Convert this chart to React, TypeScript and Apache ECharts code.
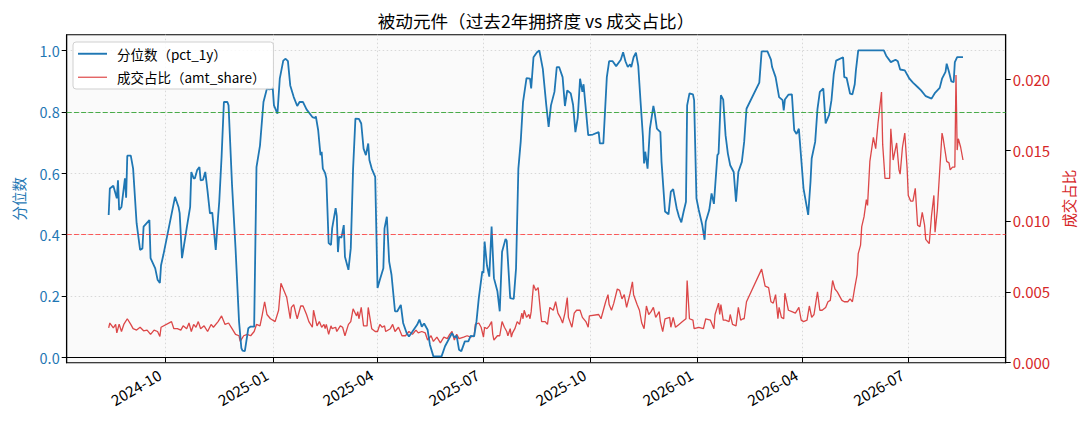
import React, { useEffect, useRef } from "react";
import * as echarts from "echarts";

const chartTitle = "被动元件（过去2年拥挤度 vs 成交占比）";
const pctName = "分位数（pct_1y）";
const amtName = "成交占比（amt_share）";
const leftAxisName = "分位数";
const rightAxisName = "成交占比";
const startDate = "2024-08-13";

const pctDays = [
  0, 1, 4, 7, 8, 9, 11, 14, 15, 16, 19, 21, 24, 27, 29, 30, 35, 36, 40, 42, 44, 45, 47, 57, 60, 61, 63, 67, 70, 71,
  73, 74, 76, 78, 79, 81, 83, 85, 87, 89, 92, 94, 95, 97, 99, 102, 103, 106, 109, 112, 114, 115, 117, 120, 122, 125,
  127, 130, 133, 136, 138, 141, 142, 145, 147, 150, 152, 154, 156, 159, 162, 164, 167, 170, 175, 177, 178, 180, 182,
  183, 184, 186, 187, 189, 191, 192, 195, 196, 197, 198, 200, 202, 203, 206, 208, 210, 212, 215, 217, 219, 221, 223,
  224, 226, 229, 231, 233, 236, 237, 239, 241, 243, 246, 248, 251, 253, 256, 258, 261, 265, 267, 269, 271, 274, 276,
  279, 286, 289, 295, 297, 299, 301, 303, 306, 309, 311, 314, 316, 318, 321, 322, 323, 325, 327, 329, 331, 334, 336,
  338, 341, 342, 345, 348, 350, 352, 354, 356, 359, 362, 363, 365, 368, 370, 373, 376, 378, 380, 383, 385, 387, 390,
  392, 394, 397, 399, 401, 403, 405, 407, 408, 412, 416, 421, 422, 425, 428, 430, 433, 436, 440, 442, 444, 446, 448,
  449, 451, 453, 455, 457, 459, 460, 461, 463, 465, 468, 469, 471, 474, 475, 478, 481, 483, 485, 488, 490, 492, 494,
  496, 497, 499, 502, 503, 505, 507, 510, 512, 513, 516, 518, 520, 523, 524, 526, 528, 530, 532, 534, 537, 539, 541,
  544, 546, 548, 559, 561, 566, 569, 570, 573, 576, 579, 580, 581, 584, 587, 589, 591, 593, 597, 601, 603, 604, 607,
  609, 611, 614, 616, 619, 621, 623, 625, 631, 632, 634, 637, 639, 641, 642, 644, 666, 668, 672, 676, 678, 680, 684,
  688, 691, 695, 698, 702, 707, 710, 714, 716, 719, 720, 722, 724, 726, 727, 729, 734,
];
const pctValues = [
  0.464, 0.55, 0.559, 0.518, 0.577, 0.48, 0.49, 0.583, 0.52, 0.657, 0.657, 0.615, 0.437, 0.35, 0.355, 0.426, 0.447,
  0.323, 0.29, 0.253, 0.242, 0.3, 0.334, 0.523, 0.49, 0.47, 0.323, 0.42, 0.49, 0.604, 0.583, 0.583, 0.61, 0.62, 0.577,
  0.578, 0.604, 0.54, 0.469, 0.472, 0.35, 0.458, 0.507, 0.653, 0.832, 0.832, 0.821, 0.561, 0.355, 0.117, 0.03, 0.022,
  0.02, 0.095, 0.1, 0.1, 0.62, 0.69, 0.832, 0.876, 0.873, 0.876, 0.821, 0.794, 0.908, 0.967, 0.973, 0.965, 0.886,
  0.848, 0.819, 0.832, 0.832, 0.808, 0.783, 0.78, 0.785, 0.74, 0.659, 0.67, 0.615, 0.6, 0.583, 0.372, 0.366, 0.42,
  0.486, 0.46, 0.343, 0.393, 0.39, 0.431, 0.328, 0.285, 0.355, 0.615, 0.778, 0.777, 0.762, 0.68, 0.659, 0.697, 0.643,
  0.615, 0.588, 0.226, 0.253, 0.29, 0.42, 0.458, 0.312, 0.269, 0.15, 0.15, 0.171, 0.112, 0.079, 0.068, 0.084, 0.106,
  0.123, 0.1, 0.11, 0.09, 0.041, 0.003, 0.003, 0.036, 0.079, 0.065, 0.07, 0.025, 0.02, 0.052, 0.052, 0.07, 0.068,
  0.117, 0.193, 0.28, 0.275, 0.377, 0.3, 0.263, 0.426, 0.258, 0.215, 0.15, 0.344, 0.386, 0.38, 0.193, 0.19, 0.29,
  0.615, 0.702, 0.832, 0.91, 0.908, 0.876, 0.978, 0.994, 1.0, 0.94, 0.821, 0.751, 0.821, 0.865, 0.946, 0.946, 0.913,
  0.819, 0.87, 0.86, 0.823, 0.734, 0.78, 0.908, 0.865, 0.89, 0.724, 0.726, 0.734, 0.697, 0.697, 0.913, 0.965, 0.965,
  0.949, 0.97, 0.994, 0.965, 0.946, 0.955, 0.946, 0.978, 0.993, 0.95, 0.832, 0.72, 0.632, 0.67, 0.615, 0.745, 0.819,
  0.8, 0.745, 0.734, 0.637, 0.475, 0.466, 0.54, 0.548, 0.486, 0.458, 0.44, 0.475, 0.507, 0.821, 0.86, 0.857, 0.838,
  0.518, 0.48, 0.431, 0.383, 0.442, 0.48, 0.534, 0.5, 0.659, 0.664, 0.854, 0.84, 0.724, 0.664, 0.626, 0.604, 0.507,
  0.604, 0.637, 0.702, 0.81, 0.895, 0.997, 0.997, 0.97, 0.946, 0.913, 0.848, 0.838, 0.805, 0.84, 0.856, 0.857, 0.74,
  0.728, 0.745, 0.55, 0.464, 0.572, 0.648, 0.702, 0.81, 0.865, 0.876, 0.762, 0.79, 0.838, 0.924, 0.967, 0.978, 0.913,
  0.911, 0.859, 0.857, 0.89, 0.935, 1.0, 1.0, 0.983, 0.962, 0.97, 0.965, 0.938, 0.935, 0.908, 0.895, 0.881, 0.87,
  0.851, 0.843, 0.862, 0.878, 0.908, 0.93, 0.957, 0.93, 0.899, 0.897, 0.962, 0.978, 0.978,
];

const amtDays = [
  0, 1, 4, 6, 7, 9, 11, 13, 16, 19, 21, 24, 27, 30, 33, 36, 39, 42, 44, 45, 54, 56, 59, 62, 64, 67, 69, 71, 73, 75,
  77, 79, 82, 85, 88, 90, 94, 97, 100, 103, 106, 109, 112, 113, 116, 119, 122, 125, 127, 130, 132, 134, 136, 139, 143,
  146, 148, 151, 153, 156, 157, 159, 161, 162, 165, 167, 170, 172, 175, 176, 179, 181, 183, 185, 186, 187, 189, 191,
  192, 195, 196, 199, 201, 203, 206, 208, 210, 213, 214, 215, 217, 219, 222, 223, 226, 229, 231, 233, 235, 237, 238,
  242, 244, 246, 249, 252, 255, 258, 261, 264, 266, 269, 272, 274, 277, 279, 282, 285, 288, 291, 293, 295, 297, 299,
  301, 305, 308, 311, 314, 315, 318, 320, 322, 323, 325, 327, 329, 330, 331, 334, 336, 338, 340, 342, 343, 345, 346,
  347, 349, 351, 353, 355, 356, 357, 359, 361, 362, 363, 365, 367, 369, 371, 372, 375, 377, 379, 382, 384, 386, 388,
  390, 392, 394, 395, 398, 400, 402, 405, 407, 410, 412, 413, 421, 423, 427, 429, 430, 432, 434, 437, 439, 441, 443,
  445, 448, 450, 451, 454, 456, 458, 460, 462, 464, 466, 468, 470, 473, 474, 476, 478, 482, 483, 485, 487, 490, 493,
  496, 497, 499, 502, 503, 507, 511, 513, 517, 520, 521, 524, 525, 526, 528, 530, 533, 534, 536, 539, 541, 543, 545,
  546, 548, 561, 564, 567, 569, 571, 573, 575, 576, 578, 580, 581, 584, 587, 590, 593, 595, 597, 600, 602, 604, 606,
  609, 611, 613, 616, 618, 620, 622, 624, 626, 630, 632, 635, 637, 639, 641, 643, 644, 646, 647, 649, 651, 652, 654,
  657, 659, 661, 664, 665, 667, 671, 672, 674, 677, 679, 680, 682, 684, 686, 687, 689, 691, 693, 695, 697, 699, 701,
  702, 705, 707, 709, 710, 712, 713, 716, 717, 720, 722, 723, 725, 727, 728, 729, 730, 732, 734,
];
const amtValues = [
  0.00246, 0.0028, 0.00246, 0.0027, 0.0021, 0.00272, 0.0022, 0.0027, 0.0031, 0.0027, 0.0024, 0.0023, 0.0025, 0.00225,
  0.0023, 0.002, 0.0023, 0.0022, 0.00185, 0.0025, 0.0029, 0.0024, 0.0024, 0.0023, 0.0026, 0.0024, 0.0028, 0.0022,
  0.0027, 0.0025, 0.0029, 0.0024, 0.0026, 0.0022, 0.0027, 0.0025, 0.0029, 0.0033, 0.0027, 0.0028, 0.0024, 0.002,
  0.0019, 0.0015, 0.0019, 0.002, 0.0019, 0.0022, 0.0027, 0.0026, 0.0034, 0.0043, 0.0034, 0.0031, 0.0029, 0.0037,
  0.0056, 0.005, 0.0046, 0.0031, 0.0039, 0.0041, 0.0034, 0.0031, 0.004, 0.004, 0.0034, 0.0029, 0.0025, 0.0037, 0.0026,
  0.0029, 0.0025, 0.0027, 0.0024, 0.0027, 0.002, 0.0026, 0.0024, 0.0025, 0.0022, 0.0026, 0.0025, 0.0019, 0.0027,
  0.0029, 0.0038, 0.0033, 0.0036, 0.0031, 0.0039, 0.0026, 0.0026, 0.0039, 0.0024, 0.0022, 0.0022, 0.0027, 0.0025,
  0.0026, 0.0022, 0.0024, 0.0027, 0.0022, 0.0025, 0.0019, 0.0019, 0.0022, 0.002, 0.0023, 0.0021, 0.0022, 0.0021,
  0.0016, 0.0019, 0.0015, 0.0018, 0.0014, 0.0018, 0.0017, 0.002, 0.0022, 0.0016, 0.002, 0.0017, 0.0018, 0.0019,
  0.0018, 0.0019, 0.0027, 0.0028, 0.0025, 0.0018, 0.0025, 0.0024, 0.0026, 0.0029, 0.002, 0.0016, 0.0019, 0.0019,
  0.0029, 0.0025, 0.0022, 0.0019, 0.0024, 0.0018, 0.0021, 0.0024, 0.0029, 0.0027, 0.0035, 0.0031, 0.0037, 0.0032,
  0.0034, 0.0031, 0.0036, 0.0055, 0.0051, 0.0053, 0.0036, 0.0029, 0.0029, 0.0027, 0.0039, 0.0037, 0.0043, 0.0035,
  0.0032, 0.0028, 0.0035, 0.0046, 0.0032, 0.0025, 0.0035, 0.0037, 0.0037, 0.0032, 0.0029, 0.0025, 0.0033, 0.0034,
  0.0031, 0.0043, 0.0048, 0.0041, 0.0037, 0.0042, 0.0052, 0.0051, 0.0045, 0.0048, 0.0039, 0.0049, 0.0057, 0.0048,
  0.0041, 0.0037, 0.0028, 0.0024, 0.004, 0.0034, 0.0036, 0.0039, 0.0032, 0.0036, 0.0029, 0.0022, 0.0031, 0.0032,
  0.0025, 0.0032, 0.0025, 0.0027, 0.0029, 0.0031, 0.0058, 0.0031, 0.003, 0.0024, 0.0025, 0.0024, 0.0031, 0.003,
  0.0024, 0.0034, 0.0042, 0.0034, 0.0041, 0.003, 0.003, 0.0029, 0.0034, 0.0027, 0.0026, 0.0039, 0.003, 0.0031, 0.0031,
  0.0043, 0.0066, 0.0054, 0.0053, 0.0043, 0.0042, 0.0048, 0.0031, 0.0039, 0.0032, 0.0031, 0.0049, 0.0037, 0.0036,
  0.0035, 0.0039, 0.003, 0.0029, 0.003, 0.004, 0.0032, 0.0034, 0.005, 0.0037, 0.0037, 0.0039, 0.0043, 0.0044, 0.0058,
  0.0052, 0.005, 0.0044, 0.0043, 0.0043, 0.0045, 0.0043, 0.0053, 0.0062, 0.0077, 0.0083, 0.0096, 0.0103, 0.0115,
  0.0111, 0.0142, 0.0159, 0.0151, 0.0169, 0.0191, 0.0154, 0.013, 0.013, 0.0165, 0.0143, 0.0155, 0.0136, 0.0133,
  0.0152, 0.0162, 0.0137, 0.0118, 0.0114, 0.0114, 0.0123, 0.0097, 0.0096, 0.0106, 0.0097, 0.0087, 0.0084, 0.0104,
  0.0118, 0.0092, 0.0108, 0.0122, 0.0162, 0.0158, 0.0142, 0.0141, 0.0136, 0.0138, 0.0138, 0.0203, 0.015, 0.0158,
  0.0152, 0.0143,
];

const xTickLabels = ["2024-10", "2025-01", "2025-04", "2025-07", "2025-10", "2026-01", "2026-04", "2026-07"];
const leftTicks = [0, 0.2, 0.4, 0.6, 0.8, 1.0];
const rightTicks = [0, 0.005, 0.01, 0.015, 0.02];
const highLevel = 0.8;
const lowLevel = 0.4;

const DAY = 86400000;
const FONT = "'Noto Sans CJK SC', 'Noto Sans', sans-serif";

function dayToTime(d: number): number {
  const [y, m, dd] = startDate.split("-").map(Number);
  return new Date(y, m - 1, dd + d).getTime();
}
function monthToTime(s: string): number {
  const [y, m] = s.split("-").map(Number);
  return new Date(y, m - 1, 1).getTime();
}
function fmtMonth(v: number): string {
  const d = new Date(v);
  return `${d.getFullYear()}-${String(d.getMonth() + 1).padStart(2, "0")}`;
}

export default function App() {
  const ref = useRef<HTMLDivElement>(null);
  useEffect(() => {
    if (!ref.current) return;
    const chart = echarts.init(ref.current, undefined, { renderer: "svg" });
    const xTicks = xTickLabels.map(monthToTime);
    const anchor = xTicks[0];
    const pctData = pctDays.map((d, i) => [dayToTime(d), pctValues[i]]);
    const amtData = amtDays.map((d, i) => [dayToTime(d), amtValues[i]]);
    const gridLine = { show: true, lineStyle: { color: "#d4d4d4", type: [1.5, 2.5], width: 0.9 } };
    chart.setOption({
      animation: false,
      backgroundColor: "#ffffff",
      textStyle: { fontFamily: FONT },
      title: {
        text: chartTitle,
        left: 531,
        top: 7,
        textAlign: "center",
        textStyle: { fontSize: 17.6, fontWeight: "normal", color: "#000", fontFamily: FONT },
      },
      legend: {
        left: 73,
        top: 42,
        orient: "vertical",
        itemWidth: 29,
        itemHeight: 14,
        itemGap: 10,
        padding: [5, 8, 5, 5],
        backgroundColor: "rgba(255,255,255,0.85)",
        borderColor: "#d0d0d0",
        borderWidth: 1,
        borderRadius: 3,
        textStyle: { fontSize: 13.5, color: "#000", fontFamily: FONT, padding: [0, 0, 0, 5] },
        data: [
          { name: pctName, icon: "path://M0,0H30V2H0Z" },
          { name: amtName, icon: "path://M0,0H30V1.3H0Z" },
        ],
      },
      grid: {
        left: 66.7,
        right: 83.3,
        top: 34.7,
        bottom: 66.3,
        show: true,
        backgroundColor: "#fafafa",
        borderColor: "#000",
        borderWidth: 1.1,
        containLabel: false,
      },
      xAxis: {
        type: "value",
        min: anchor - 85.06 * DAY,
        max: anchor + 721.7 * DAY,
        axisLine: { show: true, lineStyle: { color: "#000", width: 1.1 } },
        axisTick: { show: true, customValues: xTicks, length: 5, lineStyle: { color: "#000", width: 1 } },
        axisLabel: {
          customValues: xTicks,
          formatter: (v: number) => fmtMonth(v),
          rotate: 30,
          fontSize: 15,
          color: "#000",
          margin: 7,
          padding: [0, 7, 0, 0],
          fontFamily: FONT,
        },
        splitLine: gridLine,
      },
      yAxis: [
        {
          type: "value",
          min: -0.0176,
          max: 1.0514,
          name: leftAxisName,
          nameLocation: "middle",
          nameRotate: 90,
          nameGap: 41,
          nameTextStyle: { color: "#1f77b4", fontSize: 14.5, fontFamily: FONT },
          axisLine: { show: true, lineStyle: { color: "#000", width: 1.1 } },
          axisTick: { show: true, customValues: leftTicks, length: 5, lineStyle: { color: "#000", width: 1 } },
          axisLabel: {
            customValues: leftTicks,
            formatter: (v: number) => v.toFixed(1),
            color: "#1f77b4",
            fontSize: 14.5,
            margin: 7,
            fontFamily: FONT,
          },
          splitLine: gridLine,
        },
        {
          type: "value",
          min: 0,
          max: 0.02314,
          position: "right",
          name: rightAxisName,
          nameLocation: "middle",
          nameRotate: 90,
          nameGap: 53,
          nameTextStyle: { color: "#d62728", fontSize: 14.5, fontFamily: FONT },
          axisLine: { show: true, lineStyle: { color: "#000", width: 1.1 } },
          axisTick: { show: true, customValues: rightTicks, length: 5, lineStyle: { color: "#000", width: 1 } },
          axisLabel: {
            customValues: rightTicks,
            formatter: (v: number) => v.toFixed(3),
            color: "#d62728",
            fontSize: 15,
            margin: 7,
            fontFamily: FONT,
          },
          splitLine: { show: false },
        },
      ],
      series: [
        {
          name: pctName,
          type: "line",
          yAxisIndex: 0,
          data: pctData,
          showSymbol: false,
          symbol: "none",
          lineStyle: { color: "#1f77b4", width: 1.8 },
          itemStyle: { color: "#1f77b4" },
          z: 3,
          markLine: {
            silent: true,
            symbol: "none",
            label: { show: false },
            data: [
              { yAxis: highLevel, lineStyle: { color: "rgba(44,160,44,0.85)", type: [5, 2.2], width: 1 } },
              { yAxis: lowLevel, lineStyle: { color: "rgba(255,40,40,0.75)", type: [5, 2.2], width: 1 } },
            ],
          },
        },
        {
          name: amtName,
          type: "line",
          yAxisIndex: 1,
          data: amtData,
          showSymbol: false,
          symbol: "none",
          lineStyle: { color: "#d62728", width: 1.3, opacity: 0.85 },
          itemStyle: { color: "#e05050" },
          z: 2,
        },
      ],
    });
    return () => chart.dispose();
  }, []);
  return <div ref={ref} style={{ position: "absolute", left: 0, top: 0, width: 1089, height: 429 }} />;
}
